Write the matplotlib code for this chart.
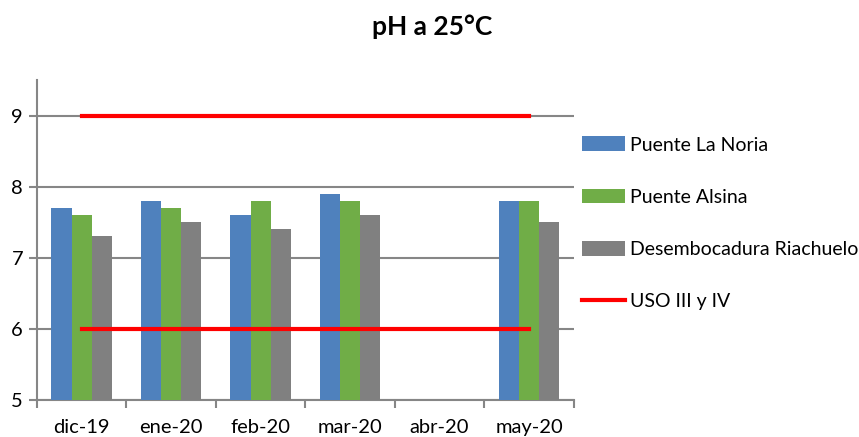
import numpy as np
import matplotlib.pyplot as plt
from matplotlib.ticker import FixedLocator

meses = ['dic-19', 'ene-20', 'feb-20', 'mar-20', 'abr-20', 'may-20']
la_noria = [7.7, 7.8, 7.6, 7.9, np.nan, 7.8]
alsina = [7.6, 7.7, 7.8, 7.8, np.nan, 7.8]
riachuelo = [7.3, 7.5, 7.4, 7.6, np.nan, 7.5]
uso_min = 6
uso_max = 9

plt.rcParams['font.family'] = ['Lato', 'DejaVu Sans']

fig = plt.figure(figsize=(8.59, 4.37), dpi=100)
ax = fig.add_axes([0.043, 0.085, 0.625, 0.732])

x = np.arange(len(meses))
w = 0.225
b1 = ax.bar(x - w, la_noria, w, color='#4F81BD', label='Puente La Noria', zorder=3)
b2 = ax.bar(x, alsina, w, color='#70AD47', label='Puente Alsina', zorder=3)
b3 = ax.bar(x + w, riachuelo, w, color='#808080', label='Desembocadura Riachuelo', zorder=3)

l1, = ax.plot([x[0], x[-1]], [uso_max, uso_max], color='#FF0000', lw=3, label='USO III y IV', zorder=4)
ax.plot([x[0], x[-1]], [uso_min, uso_min], color='#FF0000', lw=3, zorder=4)

ax.set_xlim(-0.5, len(meses) - 0.5)
ax.set_ylim(5, 9.5)
ax.set_yticks([5, 6, 7, 8, 9])
ax.set_xticks(x)
ax.set_xticklabels(meses)
ax.xaxis.set_minor_locator(FixedLocator(np.arange(-0.5, len(meses), 1)))
ax.tick_params(axis='x', which='major', length=0, pad=14, labelsize=14.5)
ax.tick_params(axis='x', which='minor', length=6, width=1.5, color='#868686', direction='out')
ax.tick_params(axis='y', length=6, width=1.5, color='#868686', labelsize=14.5, pad=4)

ax.grid(axis='y', color='#868686', lw=1.5, zorder=0)
for s in ['top', 'right']:
    ax.spines[s].set_visible(False)
for s in ['left', 'bottom']:
    ax.spines[s].set_color('#868686')
    ax.spines[s].set_linewidth(1.5)

fig.suptitle('pH a 25°C', x=0.503, y=0.967, fontsize=19, fontweight='bold')

fig.legend([b1, b2, b3, l1], [b1.get_label(), b2.get_label(), b3.get_label(), l1.get_label()],
           loc='upper left', bbox_to_anchor=(0.657, 0.728), frameon=False,
           fontsize=14, labelspacing=1.8, handlelength=2.2, handleheight=0.8,
           handletextpad=0.3)

fig.savefig('out.png', dpi=100)
